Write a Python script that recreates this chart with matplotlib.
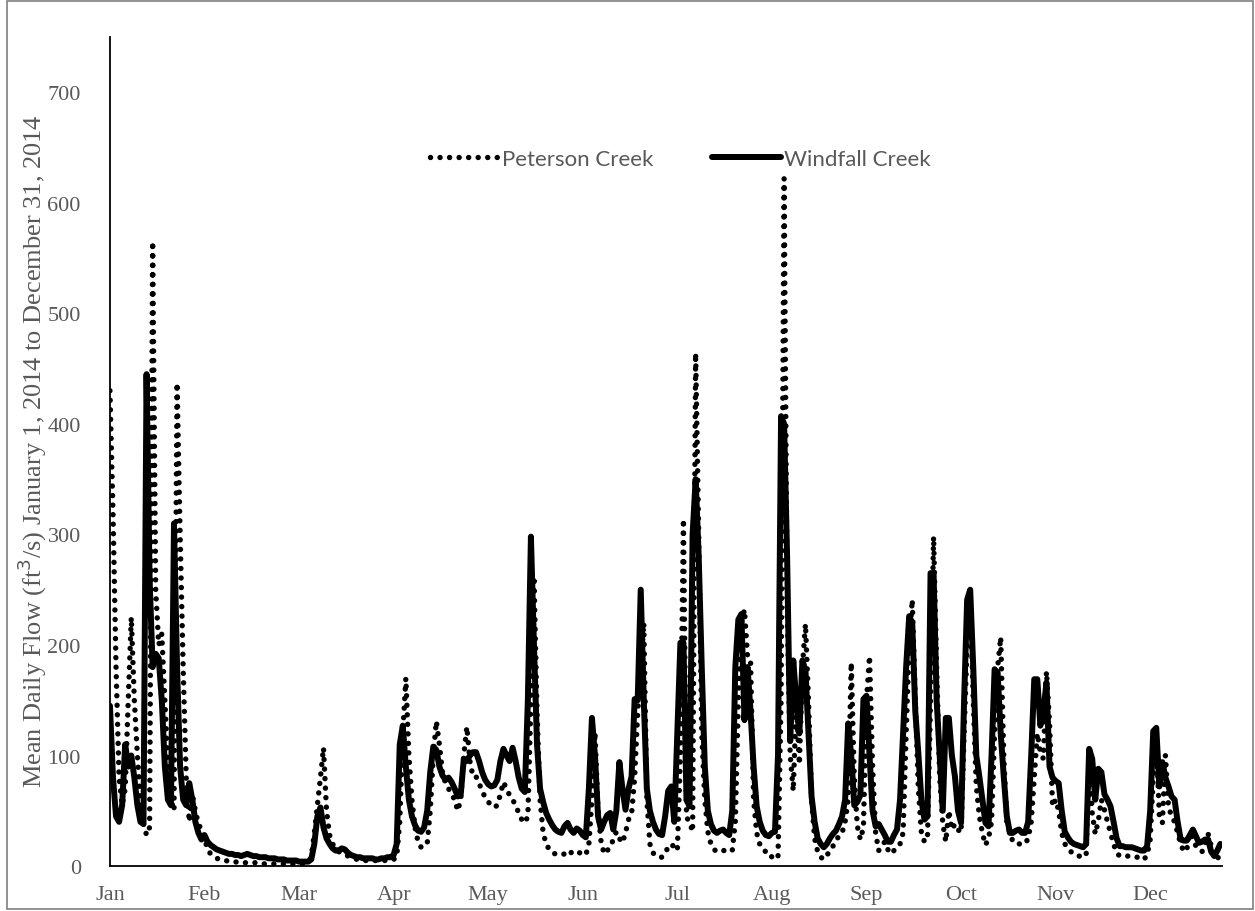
import matplotlib
matplotlib.use("Agg")
import matplotlib.pyplot as plt
from matplotlib.patches import Rectangle
import numpy as np

# mean daily flow (ft3/s), one list per calendar month
windfall_jan = [145, 80, 45, 40, 55, 110, 90, 100, 80, 55, 40, 38, 445, 260, 180, 192,
                188, 150, 90, 60, 55, 310, 180, 90, 60, 55, 75, 60, 40, 30, 24]
windfall_feb = [28, 22, 19, 17, 15, 14, 13, 12, 11, 11, 10, 10, 9, 10, 11, 10, 9, 9, 8, 8,
                8, 7, 7, 7, 6, 6, 6, 5]
windfall_mar = [5, 5, 5, 4, 4, 4, 4, 6, 20, 45, 53, 35, 25, 20, 16, 14, 14, 16, 15, 12,
                10, 9, 8, 8, 7, 7, 7, 7, 6, 6, 7]
windfall_apr = [7, 8, 8, 10, 20, 110, 127, 90, 60, 45, 37, 32, 31, 35, 50, 85, 108, 105,
                90, 82, 78, 80, 76, 70, 63, 65, 97, 95, 100, 103]
windfall_may = [103, 95, 85, 78, 74, 72, 73, 78, 95, 106, 100, 95, 107, 95, 80, 70, 67,
                150, 298, 200, 110, 70, 58, 48, 42, 37, 33, 31, 30, 36, 39]
windfall_jun = [33, 30, 34, 32, 28, 26, 70, 134, 100, 45, 33, 40, 46, 48, 33, 50, 94, 70,
                51, 70, 81, 151, 150, 250, 150, 70, 50, 40, 33, 29]
windfall_jul = [28, 45, 68, 72, 40, 120, 202, 202, 60, 54, 300, 350, 280, 180, 90, 50, 38,
                32, 30, 32, 33, 30, 28, 50, 180, 223, 228, 132, 180, 140, 90]
windfall_aug = [54, 40, 32, 28, 27, 30, 31, 100, 407, 400, 277, 113, 186, 150, 120, 186,
                177, 120, 63, 40, 25, 20, 17, 20, 25, 29, 32, 38, 45, 60, 129]
windfall_sep = [100, 55, 58, 64, 151, 154, 100, 50, 36, 38, 33, 28, 22, 22, 28, 33, 60,
                121, 180, 226, 220, 140, 102, 60, 42, 45, 265, 265, 150, 100]
windfall_oct = [50, 134, 134, 100, 81, 50, 39, 150, 241, 250, 180, 100, 81, 60, 39, 36,
                100, 178, 175, 120, 81, 45, 30, 30, 32, 33, 30, 30, 40, 100, 169]
windfall_nov = [169, 127, 140, 166, 90, 80, 77, 75, 50, 31, 26, 22, 20, 19, 18, 17, 20,
                106, 97, 60, 88, 85, 65, 60, 54, 40, 25, 18, 18, 17]
windfall_dec = [17, 17, 16, 15, 14, 14, 18, 50, 122, 125, 72, 94, 80, 72, 63, 60, 40, 24,
                23, 23, 28, 33, 27, 21, 22, 24, 24, 13, 9, 14, 20]

peterson_jan = [430, 320, 180, 80, 55, 70, 150, 225, 150, 100, 60, 38, 28, 35, 565, 250,
                200, 210, 150, 90, 60, 50, 437, 300, 180, 80, 40, 65, 50, 38, 33]
peterson_feb = [25, 15, 11, 9, 7, 6, 5, 5, 4, 4, 4, 3, 3, 3, 3, 3, 3, 3, 3, 2, 2, 2, 2, 2,
                2, 2, 2, 2]
peterson_mar = [2, 2, 2, 2, 2, 3, 4, 8, 30, 55, 80, 107, 50, 28, 20, 16, 13, 12, 11, 9,
                8, 7, 6, 6, 5, 5, 5, 5, 5, 5, 5]
peterson_apr = [5, 5, 5, 6, 8, 40, 120, 170, 100, 60, 35, 22, 17, 18, 20, 50, 100, 131,
                110, 85, 75, 70, 65, 60, 50, 60, 100, 126, 95, 81]
peterson_may = [81, 75, 68, 62, 58, 55, 53, 55, 65, 76, 70, 64, 60, 55, 48, 42, 39, 45,
                150, 262, 140, 60, 30, 20, 15, 12, 11, 10, 10, 11, 9]
peterson_jun = [12, 13, 11, 12, 11, 10, 20, 60, 121, 50, 22, 11, 14, 17, 24, 31, 25, 21,
                30, 42, 47, 80, 139, 180, 220, 60, 20, 12, 9, 8]
peterson_jul = [8, 12, 17, 20, 17, 14, 100, 314, 44, 40, 31, 464, 300, 120, 60, 31, 20,
                15, 13, 14, 14, 14, 15, 14, 40, 150, 220, 232, 190, 186, 60]
peterson_aug = [30, 20, 15, 13, 13, 8, 6, 8, 150, 622, 232, 100, 68, 150, 92, 180, 219,
                150, 60, 25, 13, 8, 6, 10, 13, 18, 22, 28, 30, 40, 60]
peterson_sep = [184, 80, 36, 24, 35, 150, 190, 90, 30, 14, 18, 22, 15, 11, 14, 16, 20,
                30, 120, 200, 241, 150, 70, 30, 22, 25, 150, 298, 180, 80]
peterson_oct = [39, 22, 50, 33, 38, 33, 30, 120, 200, 250, 150, 72, 45, 30, 19, 25, 40,
                120, 180, 207, 100, 40, 30, 22, 20, 20, 20, 20, 25, 40, 80]
peterson_nov = [120, 103, 97, 176, 130, 54, 60, 50, 30, 20, 17, 13, 11, 9, 9, 9, 9, 103,
                48, 29, 41, 60, 51, 40, 30, 20, 12, 9, 9, 9]
peterson_dec = [9, 9, 8, 8, 6, 6, 10, 24, 80, 117, 45, 39, 100, 54, 45, 40, 30, 20, 13,
                15, 30, 25, 18, 15, 13, 20, 29, 18, 10, 6, 12]

month_labels = ["Jan", "Feb", "Mar", "Apr", "May", "Jun",
                "Jul", "Aug", "Sep", "Oct", "Nov", "Dec"]

windfall = np.concatenate([windfall_jan, windfall_feb, windfall_mar, windfall_apr,
                           windfall_may, windfall_jun, windfall_jul, windfall_aug,
                           windfall_sep, windfall_oct, windfall_nov, windfall_dec])
peterson = np.concatenate([peterson_jan, peterson_feb, peterson_mar, peterson_apr,
                           peterson_may, peterson_jun, peterson_jul, peterson_aug,
                           peterson_sep, peterson_oct, peterson_nov, peterson_dec])
days = np.arange(len(windfall))

grey = "#595959"

fig = plt.figure(figsize=(12.55, 9.12), dpi=100)
ax = fig.add_axes([0.0876, 0.0493, 0.886, 0.909])

ax.plot(days, peterson, color="black", lw=3.9, linestyle=(0, (0.01, 1.75)),
        dash_capstyle="round", solid_joinstyle="round", label="Peterson Creek")
ax.plot(days, windfall, color="black", lw=4.3, solid_joinstyle="round",
        solid_capstyle="round", label="Windfall Creek")

ax.set_xlim(0, 364.5)
ax.set_ylim(0, 750)
ax.set_yticks(range(0, 800, 100))
# excel put a label every 31 points
ax.set_xticks(np.arange(12) * 31)
ax.set_xticklabels(month_labels)

for s in ["top", "right"]:
    ax.spines[s].set_visible(False)
for s in ["left", "bottom"]:
    ax.spines[s].set_linewidth(1.3)
    ax.spines[s].set_color("black")

ax.tick_params(length=0, labelsize=16, labelcolor=grey)
ax.tick_params(axis="y", pad=21)
ax.tick_params(axis="x", pad=14)
for lab in ax.get_xticklabels() + ax.get_yticklabels():
    lab.set_family("Liberation Serif")

fig.text(0.026, 0.5055,
         "Mean Daily Flow (ft$^3$/s) January 1, 2014 to December 31, 2014",
         rotation=90, ha="center", va="center", fontsize=19, color=grey,
         family="Liberation Serif")

leg = ax.legend(loc="center", bbox_to_anchor=(0.513, 0.853), ncol=2, frameon=False,
                handlelength=3.1, handletextpad=0.15, columnspacing=2.6,
                prop={"family": "Lato", "size": 16})
for t in leg.get_texts():
    t.set_color(grey)

fig.patches.append(Rectangle((0.0056, 0.002), 0.9932, 0.9956, transform=fig.transFigure,
                             fill=False, edgecolor="#7f7f7f", lw=1.2))

fig.savefig("out.png", dpi=100)
